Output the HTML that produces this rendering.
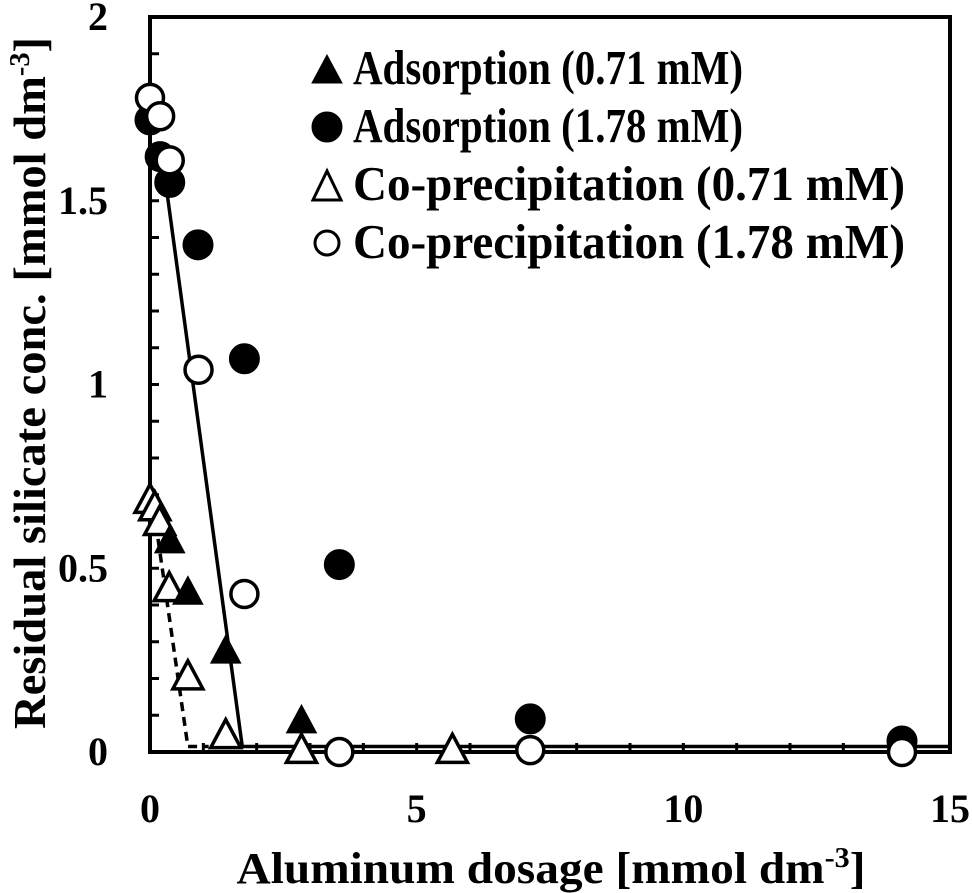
<!DOCTYPE html>
<html><head><meta charset="utf-8"><style>
html,body{margin:0;padding:0;background:#fff;}
svg{display:block;}
text{font-family:"Liberation Serif",serif;font-weight:bold;fill:#000;}
</style></head><body>
<svg id="chart" width="972" height="893" viewBox="0 0 972 893" xmlns="http://www.w3.org/2000/svg">
<g id="plot"></g>
</svg>
<script>
const xTicks=[0,5,10,15];
const xTickLabels=["0","5","10","15"];
const yTicks=[0,0.5,1,1.5,2];
const yTickLabels=["0","0.5","1","1.5","2"];
const adsLowX=[0.37,0.71,1.42,2.84];
const adsLowY=[0.58,0.44,0.28,0.09];
const adsHighX=[0,0.19,0.37,0.9,1.77,3.55,7.13,14.1];
const adsHighY=[1.72,1.62,1.55,1.38,1.07,0.51,0.09,0.03];
const copLowX=[0,0.09,0.18,0.36,0.71,1.42,2.84,5.67];
const copLowY=[0.69,0.67,0.63,0.45,0.21,0.05,0.01,0.01];
const copHighX=[0,0.19,0.37,0.91,1.77,3.55,7.13,14.1];
const copHighY=[1.78,1.73,1.61,1.04,0.43,0.0,0.005,0.0];
const solidFitX=[0.19,1.73,15];
const solidFitY=[1.66,0.015,0.015];
const dashFitX=[0.15,0.71,1.1];
const dashFitY=[0.58,0.015,0.015];

const X0=150,X1=950,Y0=752,Y1=17;
const sx=v=>X0+(v-0)/(15-0)*(X1-X0);
const sy=v=>Y0-(v-0)/(2-0)*(Y0-Y1);
const NS="http://www.w3.org/2000/svg";
const g=document.getElementById('plot');
function mk(tag,attrs,parent){const e=document.createElementNS(NS,tag);for(const k in attrs)e.setAttribute(k,attrs[k]);(parent||g).appendChild(e);return e;}

let fr=mk('rect',{x:X0,y:Y1,width:X1-X0,height:Y0-Y1,fill:'none',stroke:'#000','stroke-width':4});


for(let i=1;i<15;i++){let t=mk('line',{x1:sx(i),x2:sx(i),y1:Y0,y2:Y0-9,stroke:'#000','stroke-width':3});

}
for(let i=1;i<20;i++){let v=i/10;let t=mk('line',{x1:X0,x2:X0+9,y1:sy(v),y2:sy(v),stroke:'#000','stroke-width':3});

}
xTicks.forEach((v,i)=>{let t=mk('text',{x:sx(v),y:822,'text-anchor':'middle','font-size':40});t.textContent=xTickLabels[i];

});
yTicks.forEach((v,i)=>{let t=mk('text',{x:108,y:sy(v)+13,'text-anchor':'end','font-size':40});t.textContent=yTickLabels[i];

});
let xt=mk('text',{x:551,y:883,'text-anchor':'middle','font-size':44,textLength:629,lengthAdjust:'spacingAndGlyphs'});
xt.innerHTML='Aluminum dosage [mmol dm<tspan dy="-16" font-size="28">-3</tspan><tspan dy="16">]</tspan>';


let yt=mk('text',{x:-383,y:45,'text-anchor':'middle','font-size':46,transform:'rotate(-90)',textLength:692,lengthAdjust:'spacingAndGlyphs'});
yt.innerHTML='Residual silicate conc. [mmol dm<tspan dy="-16" font-size="28">-3</tspan><tspan dy="16">]</tspan>';


let sl=mk('polyline',{points:solidFitX.map((x,i)=>sx(x)+','+sy(solidFitY[i])).join(' '),fill:'none',stroke:'#000','stroke-width':3.5});


let dl=mk('polyline',{points:dashFitX.map((x,i)=>sx(x)+','+sy(dashFitY[i])).join(' '),fill:'none',stroke:'#000','stroke-width':3.5,'stroke-dasharray':'9,6'});


function tri(cx,cy,filled,name,parent){const w=15,h=14;let p=mk('polygon',{points:`${cx},${cy-h} ${cx-w},${cy+h} ${cx+w},${cy+h}`,fill:filled?'#000':'#fff',stroke:'#000','stroke-width':filled?1:3.5},parent);

}
function circ(cx,cy,filled,name,parent){let c=mk('circle',{cx:cx,cy:cy,r:filled?15:13.5,fill:filled?'#000':'#fff',stroke:'#000','stroke-width':filled?1:3.5},parent);

}
adsHighX.forEach((x,i)=>circ(sx(x),sy(adsHighY[i]),true,'point-adsorption-1.78'));
copHighX.forEach((x,i)=>circ(sx(x),sy(copHighY[i]),false,'point-coprecipitation-1.78'));
copLowX.forEach((x,i)=>tri(sx(x),sy(copLowY[i]),false,'point-coprecipitation-0.71'));
adsLowX.forEach((x,i)=>tri(sx(x),sy(adsLowY[i]),true,'point-adsorption-0.71'));
const legendLabels=["Adsorption (0.71 mM)","Adsorption (1.78 mM)","Co-precipitation (0.71 mM)","Co-precipitation (1.78 mM)"];
const legendWidths=[390,390,552,552];
let lg=mk('g',{});


legendLabels.forEach((s,i)=>{const by=84+i*58;
 if(i===0)tri(327,by-15,true,'legend-marker',lg);
 if(i===1)circ(327,by-15,true,'legend-marker',lg);
 if(i===2){let p=mk('polygon',{points:`327,${by-29} 313,${by} 341,${by}`,fill:'#fff',stroke:'#000','stroke-width':3},lg);}
 if(i===3){let c=mk('circle',{cx:327,cy:by-15,r:12,fill:'#fff',stroke:'#000','stroke-width':3},lg);}
 let t=mk('text',{x:353,y:by,'font-size':49,textLength:legendWidths[i],lengthAdjust:'spacingAndGlyphs'},lg);t.textContent=s;
 
 
});
</script>
</body></html>
